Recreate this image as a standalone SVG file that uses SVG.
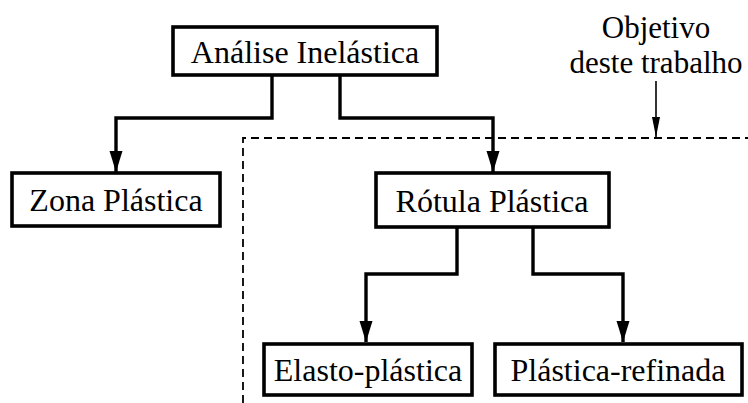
<svg xmlns="http://www.w3.org/2000/svg" width="748" height="403" viewBox="0 0 748 403">
  <style>
    .box { fill: #fff; stroke: #000; stroke-width: 3.6; stroke-linejoin: miter; }
    .lbl { font-family: "Liberation Serif", "Times New Roman", serif; font-size: 32px; fill: #000; text-anchor: middle; }
    .note { font-family: "Liberation Serif", "Times New Roman", serif; font-size: 31px; fill: #000; text-anchor: middle; }
    .conn { fill: none; stroke: #000; stroke-width: 3.4; stroke-linejoin: miter; }
    .thin { fill: none; stroke: #000; stroke-width: 1.6; }
    .dash { fill: none; stroke: #000; stroke-width: 1.8; stroke-dasharray: 8 5; }
  </style>
  <defs>
    <marker id="head" viewBox="0 0 21 14" refX="21" refY="7" markerWidth="21" markerHeight="14" markerUnits="userSpaceOnUse" orient="auto">
      <path d="M0,0.5 L21,7 L0,13.5 Z" fill="#000"/>
    </marker>
    <marker id="headSmall" viewBox="0 0 20 8" refX="20" refY="4" markerWidth="20" markerHeight="8" markerUnits="userSpaceOnUse" orient="auto">
      <path d="M0,0 L20,4 L0,8 Z" fill="#000"/>
    </marker>
  </defs>

  <!-- dashed frame around the scope of the work -->
  <g id="scope">
    <path class="dash" d="M243,403 L243,138 L748,138"/>
    <text class="note" x="656" y="38">Objetivo</text>
    <text class="note" x="656" y="73">deste trabalho</text>
  </g>

  <g id="connectors">
    <path class="conn" d="M272,75 L272,118 L116,118 L116,172" marker-end="url(#head)"/>
    <path class="conn" d="M340,75 L340,118 L493,118 L493,172" marker-end="url(#head)"/>
    <path class="conn" d="M457,227 L457,274 L366,274 L366,342" marker-end="url(#head)"/>
    <path class="conn" d="M533,227 L533,274 L623,274 L623,342" marker-end="url(#head)"/>
    <path class="thin" d="M656,81 L656,137" marker-end="url(#headSmall)"/>
  </g>

  <g id="analise">
    <rect class="box" x="173" y="27" width="264" height="48"/>
    <text class="lbl" x="305" y="63">Análise Inelástica</text>
  </g>

  <g id="zona">
    <rect class="box" x="12" y="173" width="208" height="53"/>
    <text class="lbl" x="116" y="211">Zona Plástica</text>
  </g>

  <g id="rotula">
    <rect class="box" x="376" y="173" width="233" height="54"/>
    <text class="lbl" x="492" y="212">Rótula Plástica</text>
  </g>

  <g id="elasto">
    <rect class="box" x="264" y="344" width="208" height="51"/>
    <text class="lbl" x="368" y="381">Elasto-plástica</text>
  </g>

  <g id="refinada">
    <rect class="box" x="495" y="344" width="247" height="51"/>
    <text class="lbl" x="618" y="381">Plástica-refinada</text>
  </g>
</svg>
